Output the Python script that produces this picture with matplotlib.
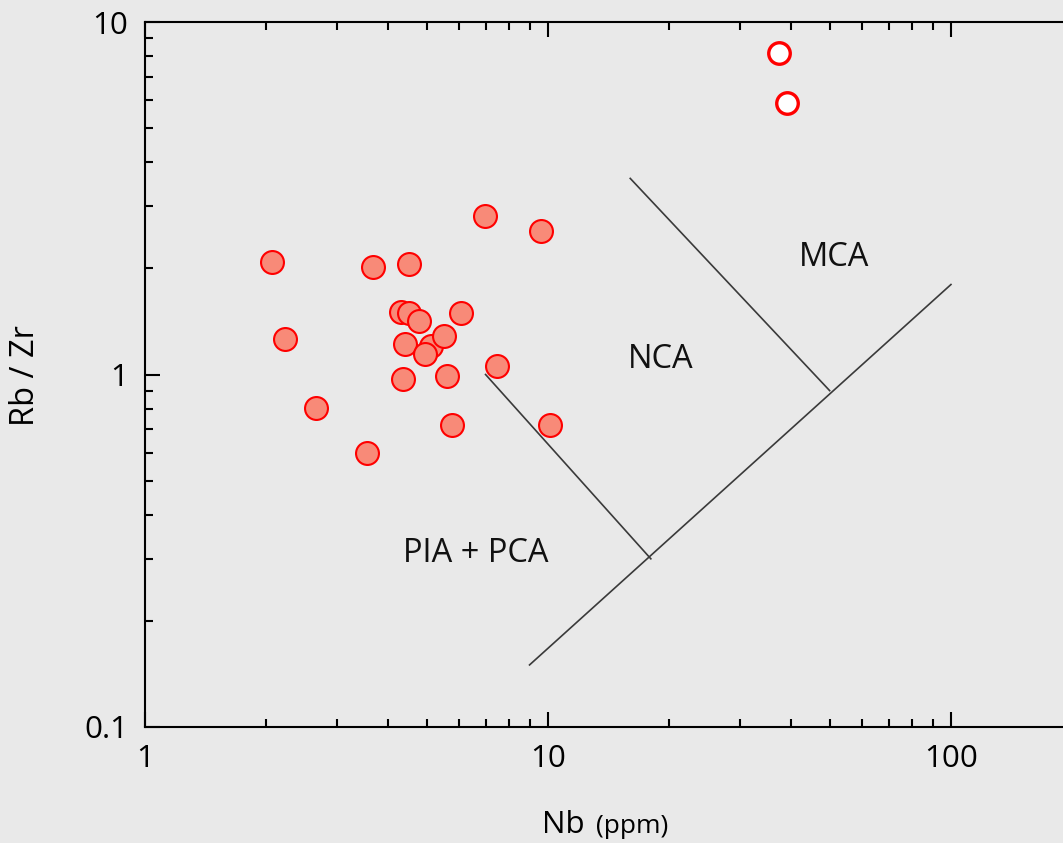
import matplotlib.pyplot as plt
from matplotlib.ticker import LogLocator, NullFormatter, FixedLocator, FixedFormatter

# filled samples
nb = [2.07, 2.22, 2.66, 3.67, 3.55, 4.51, 4.31, 4.51, 4.78, 6.08, 4.41, 5.12,
      5.51, 4.94, 4.36, 5.61, 5.77, 6.97, 9.61, 7.47, 10.1]
rb_zr = [2.09, 1.265, 0.806, 2.02, 0.597, 2.06, 1.50, 1.49, 1.42, 1.49, 1.224, 1.208,
         1.282, 1.147, 0.974, 0.993, 0.717, 2.81, 2.56, 1.06, 0.717]

# open samples
nb_open = [37.4, 39.1]
rb_zr_open = [8.19, 5.91]

# field boundaries
lines = [
    ([7, 18], [1.0, 0.30]),
    ([9, 100], [0.15, 1.8]),
    ([16, 50], [3.6, 0.9]),
]
fields = [("MCA", 51.2, 2.15), ("NCA", 19.0, 1.10), ("PIA + PCA", 6.62, 0.31)]

bg = "#e9e9e9"
font = "Open Sans"
fig = plt.figure(figsize=(10.63, 8.43), dpi=100, facecolor=bg)
ax = fig.add_axes([145 / 1063, 1 - 727 / 843, 1 - 145 / 1063 + 0.002, (727 - 22) / 843])
ax.set_facecolor(bg)
ax.set_xscale("log")
ax.set_yscale("log")
ax.set_xlim(1, 192)
ax.set_ylim(0.1, 10)

for xs, ys in lines:
    ax.plot(xs, ys, color="#3a3a3a", lw=1.2, zorder=2)

for name, x, y in fields:
    ax.text(x, y, name, ha="center", va="center", fontsize=23.5, color="#111111",
            family=font)

ax.plot(nb, rb_zr, "o", ms=16.5, mfc="#f88a78", mec="#ff0000", mew=1.5, zorder=3)
ax.plot(nb_open, rb_zr_open, "o", ms=15.5, mfc="white", mec="#ff0000", mew=2.4, zorder=3)

for s in ["left", "bottom", "top"]:
    ax.spines[s].set_linewidth(1.5)
ax.spines["right"].set_visible(False)

ax.xaxis.set_major_locator(FixedLocator([1, 10, 100]))
ax.xaxis.set_major_formatter(FixedFormatter(["1", "10", "100"]))
ax.yaxis.set_major_locator(FixedLocator([0.1, 1, 10]))
ax.yaxis.set_major_formatter(FixedFormatter(["0.1", "1", "10"]))
ax.xaxis.set_minor_locator(LogLocator(base=10, subs=range(2, 10)))
ax.yaxis.set_minor_locator(LogLocator(base=10, subs=range(2, 10)))
ax.xaxis.set_minor_formatter(NullFormatter())
ax.yaxis.set_minor_formatter(NullFormatter())

ax.tick_params(which="major", direction="in", length=11, width=1.5, labelsize=22.5,
               top=True, pad=12)
ax.tick_params(which="minor", direction="in", length=6, width=1.5, top=True)
ax.tick_params(axis="y", which="major", pad=12)
for lab in ax.get_xticklabels() + ax.get_yticklabels():
    lab.set_family(font)

fig.text(25 / 1063, 1 - 376 / 843, "Rb / Zr", rotation=90, ha="center", va="center",
         fontsize=23.5, family=font)
fig.text(585 / 1063, 1 - 833 / 843, "Nb", ha="right", va="baseline",
         fontsize=22.5, family=font)
fig.text(596 / 1063, 1 - 833 / 843, "(ppm)", ha="left", va="baseline",
         fontsize=19, family=font)

fig.savefig("out.png", dpi=100, facecolor=bg)
